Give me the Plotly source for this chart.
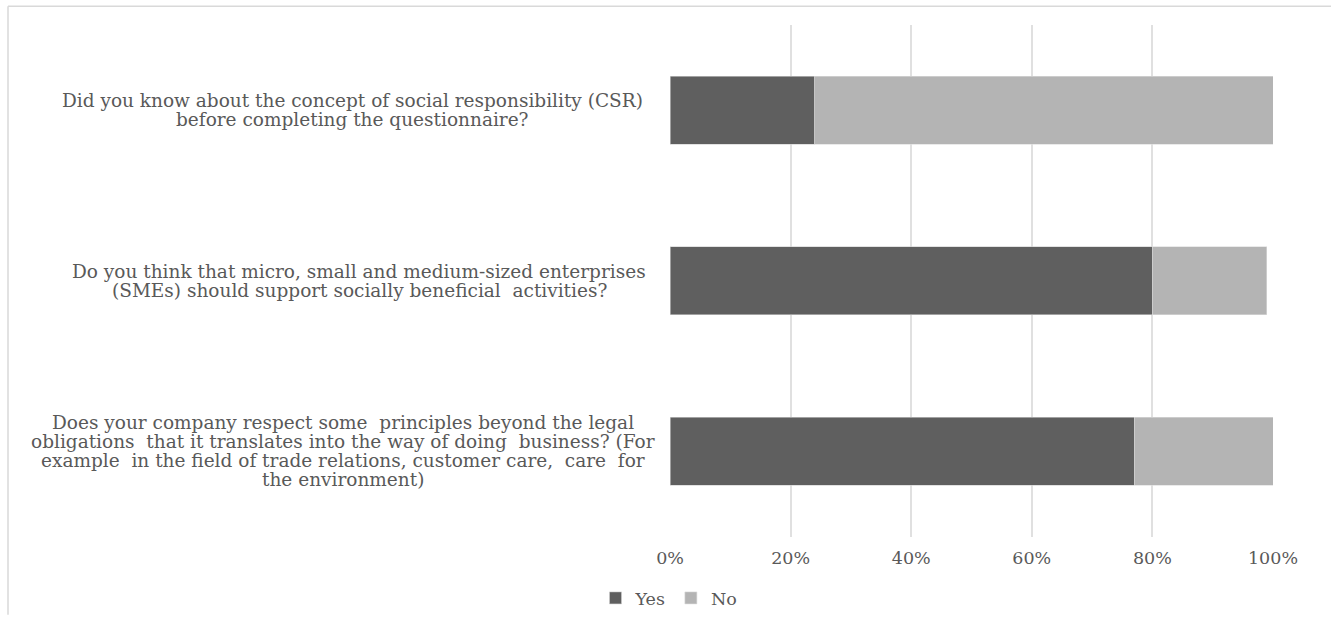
import plotly.graph_objects as go

# Survey questions (top to bottom), one list entry per printed line
question_lines = [
    ["Did you know about the concept of social responsibility (CSR)",
     "before completing the questionnaire?"],
    ["Do you think that micro, small and medium-sized enterprises",
     "(SMEs) should support socially beneficial  activities?"],
    ["Does your company respect some  principles beyond the legal",
     "obligations  that it translates into the way of doing  business? (For",
     "example  in the field of trade relations, customer care,  care  for",
     "the environment)"],
]
category_ids = ["Q1", "Q2", "Q3"]
yes_share = [24, 80, 77]
no_share = [76, 19, 23]
tick_values = [0, 20, 40, 60, 80, 100]
tick_labels = ["0%", "20%", "40%", "60%", "80%", "100%"]

W, H = 1338, 617
ML, MR, MT, MB = 670, 65, 25, 76
PW, PH = W - ML - MR, H - MT - MB

FONT = "DejaVu Serif"
FSIZE = 18.5
TEXT_GRAY = "#595959"
LINE_STEP = 19          # px between lines of a question label
LABEL_CENTERS = [352, 359, 343]   # px, horizontal centre of each label block


def px_to_paper_x(px):
    return (px - ML) / PW


def px_to_paper_y(py):
    return (H - MB - py) / PH


fig = go.Figure()
fig.add_trace(go.Bar(
    y=category_ids, x=yes_share, name="Yes", orientation="h",
    marker=dict(color="#5f5f5f", line=dict(color="#cfcfcf", width=0.6)),
))
fig.add_trace(go.Bar(
    y=category_ids, x=no_share, name="No", orientation="h",
    marker=dict(color="#b4b4b4", line=dict(color="#dcdcdc", width=0.6)),
))

# Centered multi-line question labels to the left of the plot area
annotations = []
for cid, lines, cx in zip(category_ids, question_lines, LABEL_CENTERS):
    n = len(lines)
    for i, line in enumerate(lines):
        offset = (i - (n - 1) / 2) * LINE_STEP
        annotations.append(dict(
            x=px_to_paper_x(cx), xref="paper", xanchor="center",
            y=cid, yref="y", yanchor="middle", yshift=-offset,
            text=line, showarrow=False,
            font=dict(family=FONT, size=FSIZE, color=TEXT_GRAY),
        ))

# Thin frame along the top and left edges
frame = dict(color="#d9d9d9", width=1.5)
shapes = [
    dict(type="line", xref="paper", yref="paper",
         x0=px_to_paper_x(8), x1=px_to_paper_x(1331),
         y0=px_to_paper_y(6), y1=px_to_paper_y(6), line=frame),
    dict(type="line", xref="paper", yref="paper",
         x0=px_to_paper_x(8), x1=px_to_paper_x(8),
         y0=px_to_paper_y(6), y1=px_to_paper_y(620), line=frame),
]

fig.update_layout(
    width=W, height=H,
    margin=dict(l=ML, r=MR, t=MT, b=MB, pad=0),
    barmode="stack", bargap=0.6,
    plot_bgcolor="white", paper_bgcolor="white",
    font=dict(family=FONT, size=FSIZE, color=TEXT_GRAY),
    xaxis=dict(
        range=[0, 100], tickvals=tick_values, ticktext=tick_labels,
        showgrid=True, gridcolor="#e0e0e0", gridwidth=2,
        zeroline=False, showline=False, ticks="",
        ticklabelstandoff=9,
        tickfont=dict(family=FONT, size=17.5, color=TEXT_GRAY),
    ),
    yaxis=dict(
        categoryorder="array", categoryarray=category_ids,
        autorange="reversed", showticklabels=False,
        showgrid=False, zeroline=False, showline=False, ticks="",
    ),
    legend=dict(
        orientation="h", xref="container", yref="container",
        x=0.5, xanchor="center", y=1 - 598 / H, yanchor="middle",
        font=dict(family=FONT, size=17.5, color=TEXT_GRAY),
        itemwidth=30, traceorder="normal",
    ),
    annotations=annotations,
    shapes=shapes,
    showlegend=True,
)

fig.write_html("out.html")
